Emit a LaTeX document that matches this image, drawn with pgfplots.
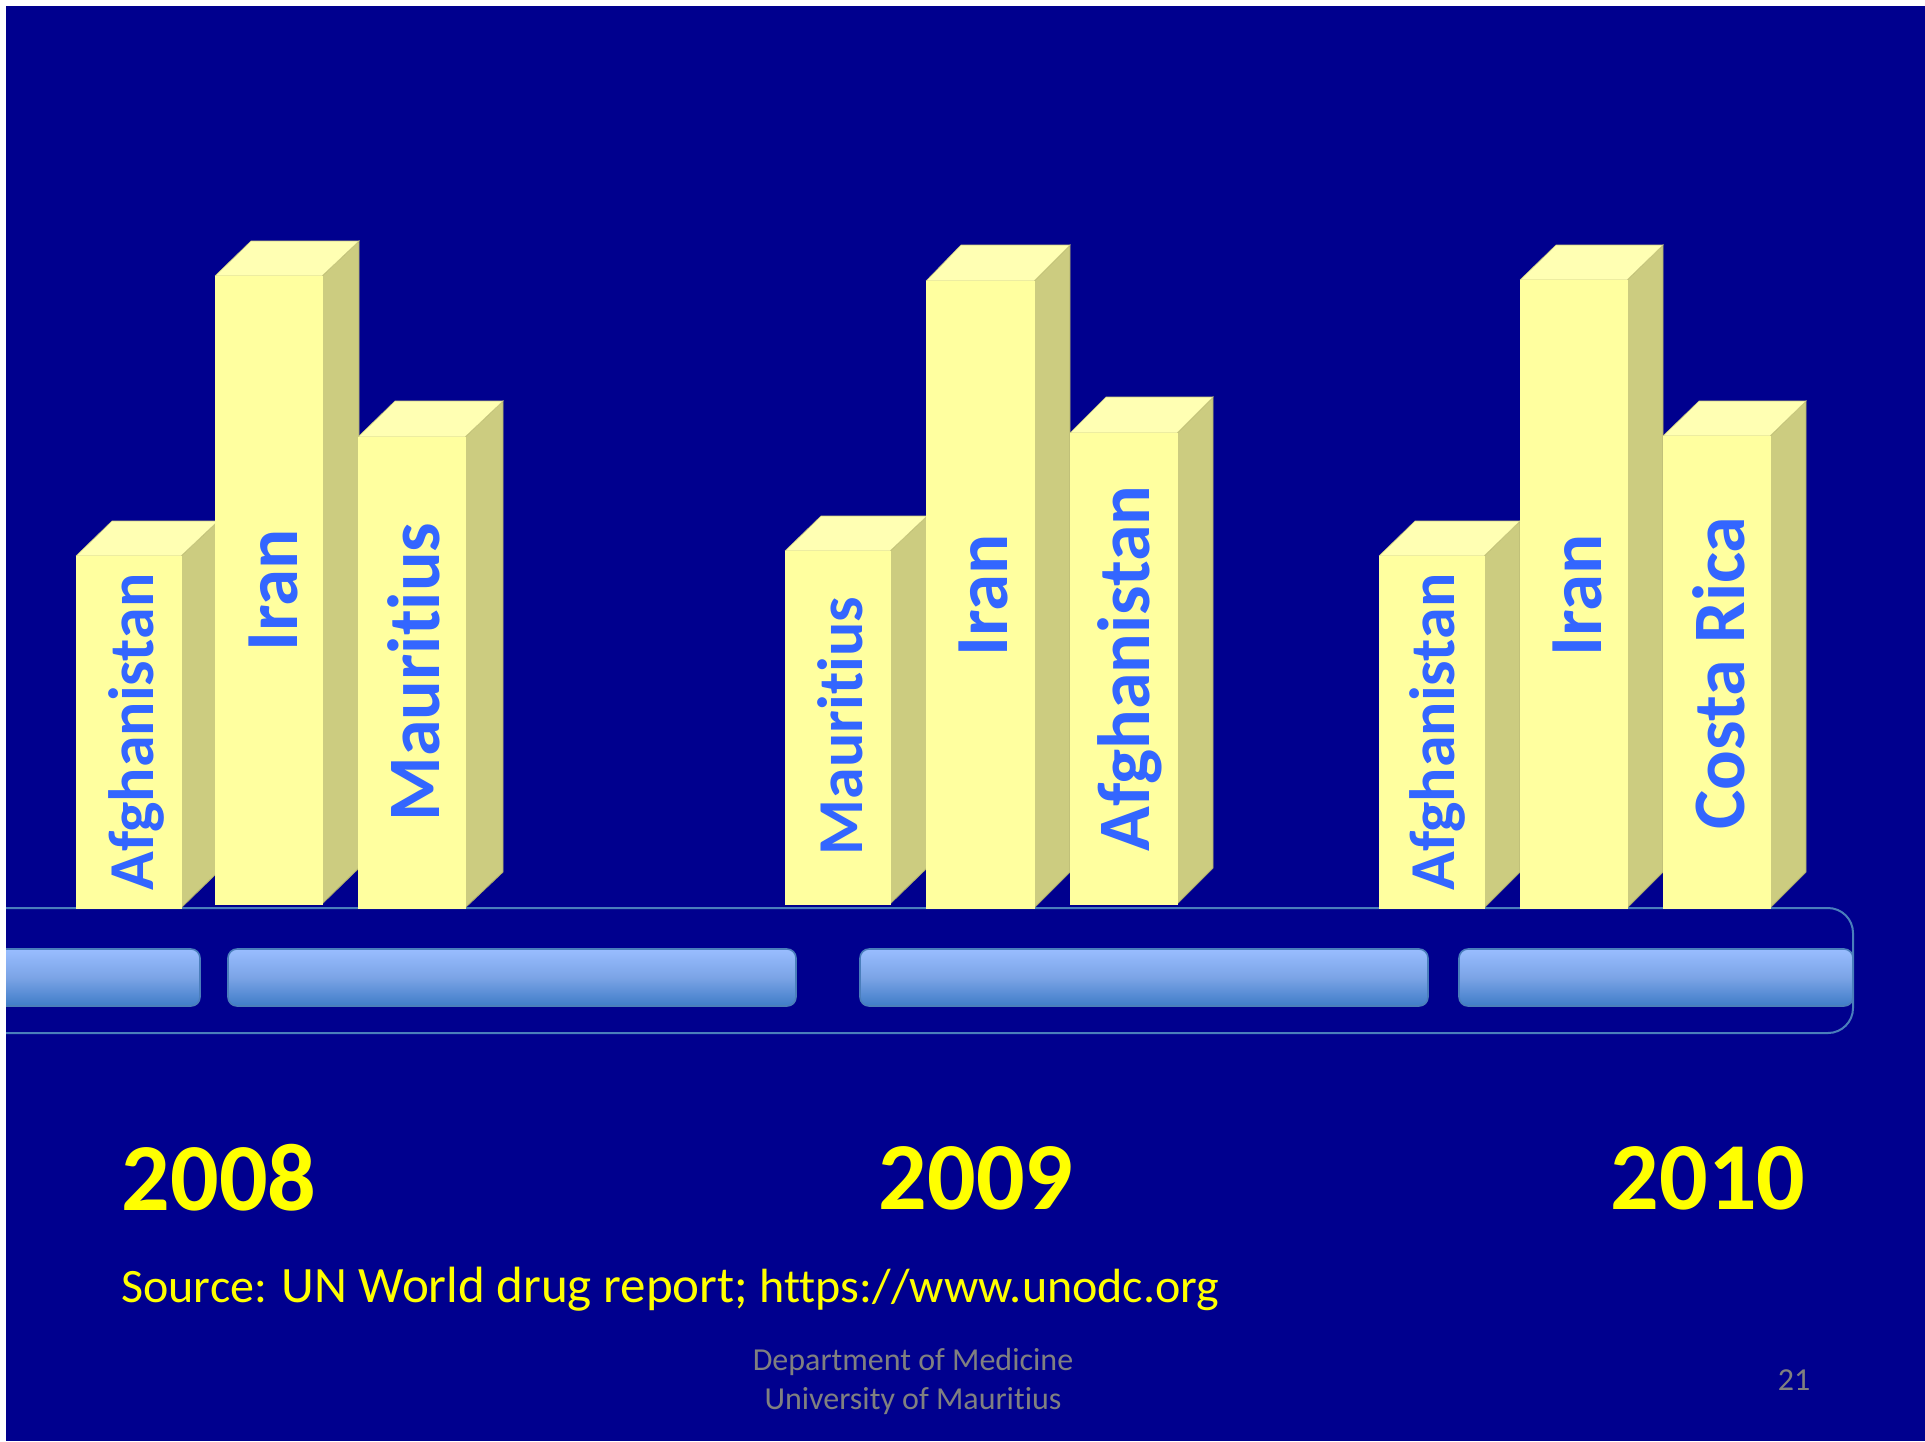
\documentclass[border=0pt]{standalone}
\usepackage{pgfplots}
\pgfplotsset{compat=1.18}
\usepackage{fontspec}
\setmainfont{Carlito}[Ligatures=NoCommon]
\definecolor{bg}{HTML}{00008E}
\definecolor{front}{HTML}{FFFF9F}
\definecolor{topf}{HTML}{FFFFB3}
\definecolor{sidef}{HTML}{CCCC80}
\definecolor{lab}{HTML}{3366FF}
\definecolor{rail}{HTML}{4A7EBB}
\definecolor{gt}{HTML}{99BDFF}
\definecolor{gb}{HTML}{3F7CC8}
\definecolor{gm}{HTML}{7BA4E6}
\definecolor{yel}{HTML}{FFFF00}
\definecolor{foot}{HTML}{808080}
% left, right, front top, back top, right back, bottom, left back, bottom back
\newcommand{\onebar}[8]{%
 \addplot[fill=sidef,draw=sidef!85!black,line width=0.4pt] coordinates {(#2,#3) (#5,#4) (#5,#8) (#2,#6) (#2,#3)};
 \addplot[fill=topf,draw=sidef,line width=0.3pt] coordinates {(#1,#3) (#7,#4) (#5,#4) (#2,#3) (#1,#3)};
 \addplot[fill=front,draw=front,line width=0.2pt] coordinates {(#1,#3) (#2,#3) (#2,#6) (#1,#6) (#1,#3)};
}
\newcommand{\barlab}[4]{\node[rotate=90,text=lab,font=\fontsize{#3}{#3}\selectfont\bfseries,inner sep=0pt] at (axis cs:#1,#2) {#4};}
\newcommand{\slot}[2]{\shade[top color=gt,bottom color=gb,middle color=gm,draw=rail,line width=0.8pt,rounded corners=4.5pt] (axis cs:#1,949) rectangle (axis cs:#2,1006);}
\begin{document}
\begin{tikzpicture}
\begin{axis}[x=0.5pt,y=0.5pt,xmin=0,xmax=1925,ymin=0,ymax=1441,y dir=reverse,hide axis,clip=true,axis on top=false]
\fill[white] (axis cs:0,0) rectangle (axis cs:1925,1441);
\fill[bg] (axis cs:6,6) rectangle (axis cs:1925,1441);
% rail
\draw[rail,line width=1pt,rounded corners=12.5pt] (axis cs:6,908) -- (axis cs:1853,908) -- (axis cs:1853,1033) -- (axis cs:6,1033);
\begin{scope}
\clip (axis cs:6,900) rectangle (axis cs:1925,1040);
\slot{-30}{200}
\end{scope}
\slot{228}{796}
\slot{860}{1428}
\slot{1459}{1853}
% bars 2008
\onebar{76}{181}{556}{521}{218}{908}{112}{872}
\onebar{215}{322}{276}{241}{359}{904}{251}{868}
\onebar{358}{465}{437}{401}{503}{908}{395}{872}
% bars 2009
\onebar{785}{890}{551}{516}{927}{904}{821}{868}
\onebar{926}{1034}{281}{245}{1070}{908}{961}{872}
\onebar{1070}{1177}{433}{397}{1213}{904}{1106}{868}
% bars 2010
\onebar{1379}{1484}{556}{521}{1520}{908}{1415}{872}
\onebar{1520}{1627}{280}{245}{1663}{908}{1556}{872}
\onebar{1663}{1770}{436}{401}{1806}{908}{1699}{872}
\barlab{136}{732}{32}{Afghanistan}
\barlab{273}{590}{37.5}{Iran}
\barlab{414}{672}{37}{Mauritius}
\barlab{840}{726}{32}{Mauritius}
\barlab{983}{595}{37.5}{Iran}
\barlab{1130}{668.5}{37}{Afghanistan}
\barlab{1437}{732}{32}{Afghanistan}
\barlab{1577}{595}{37.5}{Iran}
\barlab{1719}{673}{37}{Costa Rica}
\node[text=yel,font=\fontsize{48}{48}\selectfont\bfseries,inner sep=0pt] at (axis cs:219,1178) {2008};
\node[text=yel,font=\fontsize{48}{48}\selectfont\bfseries,inner sep=0pt] at (axis cs:976,1178) {2009};
\node[text=yel,font=\fontsize{48}{48}\selectfont\bfseries,inner sep=0pt] at (axis cs:1708,1178) {2010};
\node[text=yel,anchor=base west,inner sep=0pt] at (axis cs:121,1302) {\fontsize{24}{24}\selectfont Source: \fontsize{25.5}{25.5}\selectfont UN World drug report; \fontsize{24}{24}\selectfont https://www.unodc.org};
\node[text=foot,align=center,font=\fontsize{16}{19.5}\selectfont,inner sep=0pt] at (axis cs:913,1381.5) {Department of Medicine\\University of Mauritius};
\node[text=foot,font=\fontsize{16}{16}\selectfont,inner sep=0pt] at (axis cs:1794,1380) {21};
\end{axis}
\end{tikzpicture}
\end{document}
